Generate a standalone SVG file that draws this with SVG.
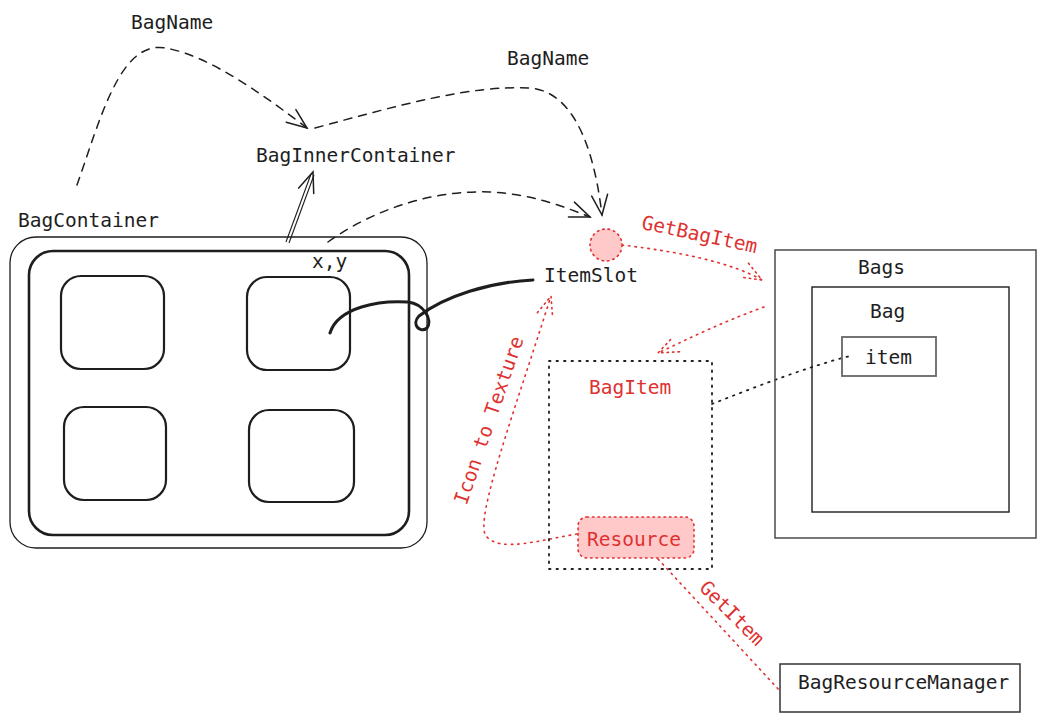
<svg xmlns="http://www.w3.org/2000/svg" width="1046" height="722" viewBox="0 0 1046 722">
<style>
text{font-family:"DejaVu Sans Mono","Liberation Mono",monospace;font-size:19.5px;fill:#1e1e1e}
.red{fill:#e03131}
.dash{fill:none;stroke:#1e1e1e;stroke-width:1.5;stroke-dasharray:8 7;stroke-linecap:round}
.rdot{fill:none;stroke:#e03131;stroke-width:1.6;stroke-dasharray:1.5 5;stroke-linecap:round}
.kdot{fill:none;stroke:#1e1e1e;stroke-width:1.8;stroke-dasharray:1.5 6;stroke-linecap:round}
.slot{fill:none;stroke:#1e1e1e;stroke-width:2.2}
</style>
<defs>
<marker id="ah" markerUnits="userSpaceOnUse" viewBox="-24 -12 26 24" refX="0" refY="0" markerWidth="26" markerHeight="24" orient="auto">
<path d="M-20,-8 L0,0 L-20,8" fill="none" stroke="#1e1e1e" stroke-width="1.5" stroke-linecap="round"/>
</marker>
<marker id="ahr" markerUnits="userSpaceOnUse" viewBox="-24 -12 26 24" refX="0" refY="0" markerWidth="26" markerHeight="24" orient="auto">
<path d="M-20,-8 L0,0 L-20,8" fill="none" stroke="#e03131" stroke-width="1.6" stroke-dasharray="1.5 4" stroke-linecap="round"/>
</marker>
</defs>
<rect width="1046" height="722" fill="#ffffff"/>

<g id="connectors">
<path class="dash" d="M77,185 C100,120 120,40 165,48 C210,55 270,100 307,128" marker-end="url(#ah)"/>
<path class="dash" d="M315,128 C400,105 470,85 530,88 C580,92 596,165 602,215" marker-end="url(#ah)"/>
<path class="dash" d="M328,242 C380,205 440,190 490,192 C530,194 560,205 590,217" marker-end="url(#ah)"/>
<path d="M286,242 L311,174 M289,243 L314,175" fill="none" stroke="#1e1e1e" stroke-width="1.1"/>
<path d="M300,208 L313,172" fill="none" stroke="none" marker-end="url(#ah)"/>
<path d="M330,333 C338,307 380,300 408,302 C424,304 433,320 427,328 C420,334 411,324 419,316 C445,296 490,282 533,280" fill="none" stroke="#1e1e1e" stroke-width="3" stroke-linecap="round"/>
<path class="rdot" d="M622,245 C680,252 730,262 762,280" marker-end="url(#ahr)"/>
<path class="rdot" d="M764,307 C720,323 690,338 658,353" marker-end="url(#ahr)"/>
<path class="rdot" d="M577,534 C540,540 500,553 486,536 C474,520 515,410 551,296" marker-end="url(#ahr)"/>
<path class="rdot" d="M658,559 L780,691"/>
<path class="kdot" d="M712,404 C760,385 810,366 850,356"/>
<text class="red" transform="translate(699.5,235) rotate(12)" text-anchor="middle" y="6">GetBagItem</text>
<text class="red" transform="translate(731.5,613.5) rotate(45)" text-anchor="middle" y="6">GetItem</text>
<text class="red" transform="translate(489.5,420.5) rotate(-71)" text-anchor="middle" y="6">Icon to Texture</text>
<text x="131" y="29">BagName</text>
<text x="507" y="65">BagName</text>
</g>

<g id="bag-container">
<rect x="10" y="237" width="417" height="311" rx="26" fill="none" stroke="#1e1e1e" stroke-width="1.3"/>
<text x="18" y="227">BagContainer</text>
</g>
<g id="bag-inner-container">
<rect x="29" y="251" width="380" height="284" rx="24" fill="none" stroke="#1e1e1e" stroke-width="2.6"/>
<text x="256" y="162">BagInnerContainer</text>
</g>
<g id="slot-1"><rect class="slot" x="61" y="276" width="103" height="93" rx="20"/></g>
<g id="slot-2"><rect class="slot" x="247" y="277" width="103" height="93" rx="20"/><text x="312" y="268">x,y</text></g>
<g id="slot-3"><rect class="slot" x="64" y="407" width="102" height="93" rx="20"/></g>
<g id="slot-4"><rect class="slot" x="249" y="410" width="105" height="92" rx="20"/></g>

<g id="item-slot">
<circle cx="606" cy="245" r="16" fill="#ffc9c9" stroke="#e03131" stroke-width="1.6" stroke-dasharray="1.5 4" stroke-linecap="round"/>
<text x="544" y="282">ItemSlot</text>
</g>

<g id="bags">
<rect x="775" y="250" width="261" height="288" fill="none" stroke="#555" stroke-width="1.6"/>
<text x="858" y="274">Bags</text>
</g>
<g id="bag">
<rect x="812" y="287" width="197" height="225" fill="none" stroke="#1e1e1e" stroke-width="1.4"/>
<text x="870" y="318">Bag</text>
</g>
<g id="item">
<rect x="842" y="337" width="94" height="39" fill="none" stroke="#666" stroke-width="1.8"/>
<text x="865" y="364">item</text>
</g>

<g id="bag-item">
<rect class="kdot" x="549" y="361" width="163" height="208"/>
<text class="red" x="589" y="394">BagItem</text>
</g>
<g id="resource">
<rect x="578" y="517" width="116" height="41" rx="9" fill="#ffc9c9" stroke="#e03131" stroke-width="1.6" stroke-dasharray="1.5 4" stroke-linecap="round"/>
<text class="red" x="587" y="546">Resource</text>
</g>

<g id="bag-resource-manager">
<rect x="780" y="664" width="240" height="48" fill="none" stroke="#333" stroke-width="1.5"/>
<text x="798" y="689">BagResourceManager</text>
</g>
</svg>
